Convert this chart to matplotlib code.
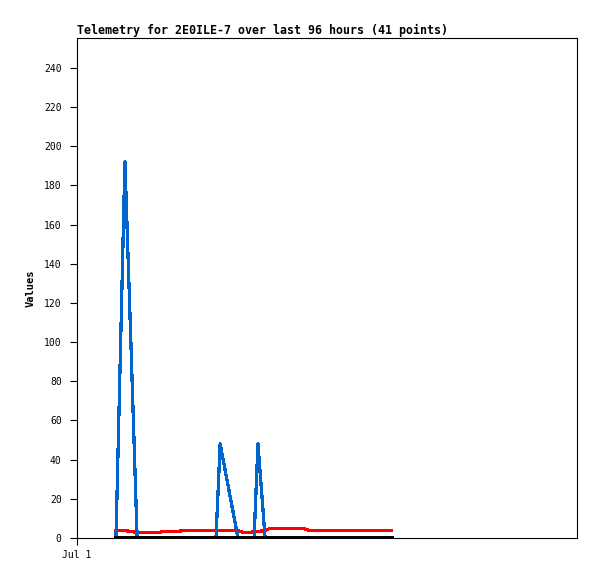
import matplotlib
matplotlib.use("Agg")
from matplotlib import pyplot as plt

# hours since Jul 1 00:00 for each telemetry point
hours = [13.1, 16.1, 18.1, 20.2, 22.5, 24.9, 27.2, 29.2, 31.6, 33.9,
         35.6, 38.0, 40.3, 42.7, 44.7, 46.7, 48.1, 50.1, 52.1, 54.1,
         55.8, 57.8, 59.5, 60.8, 63.2, 64.5, 66.9, 69.2, 71.6, 73.9,
         76.3, 78.3, 80.6, 83.0, 85.3, 87.7, 90.1, 94.4, 98.8, 103.5, 105.8]
blue_vals = [0, 192, 100, 0, 0, 0, 0, 0, 0, 0,
             0, 0, 0, 0, 0, 0, 48, 32, 16, 0,
             0, 0, 0, 48, 0, 0, 0, 0, 0, 0,
             0, 0, 0, 0, 0, 0, 0, 0, 0, 0, 0]
red_vals = [3.8, 3.8, 3.3, 2.8, 2.8, 2.8, 2.8, 3.3, 3.3, 3.3,
            3.8, 3.8, 3.8, 3.8, 3.8, 3.8, 3.8, 3.8, 3.8, 3.8,
            2.8, 2.8, 3.3, 3.3, 3.8, 4.7, 4.7, 4.7, 4.7, 4.7,
            4.7, 3.8, 3.8, 3.8, 3.8, 3.8, 3.8, 3.8, 3.8, 3.8, 3.8]
black_vals = [0] * 41

yticks = list(range(0, 241, 20))
title = "Telemetry for 2E0ILE-7 over last 96 hours (41 points)"

mono = "DejaVu Sans Mono"
fig = plt.figure(figsize=(5.97, 5.79), dpi=100)
ax = fig.add_axes([77 / 597, 41 / 579, 500 / 597, 500 / 579])

ax.plot(hours, red_vals, color="#ff0000", lw=1.6, antialiased=False)
ax.plot(hours, blue_vals, color="#0066cc", lw=1.6, antialiased=False)
ax.plot(hours, black_vals, color="black", lw=1.6, antialiased=False)

ax.set_xlim(0, 168)
ax.set_ylim(0, 255.3)
ax.set_xticks([0])
ax.set_xticklabels(["Jul 1"], family=mono, fontsize=7)
ax.set_yticks(yticks)
ax.set_yticklabels([str(v) for v in yticks], family=mono, fontsize=7)
ax.tick_params(axis="both", direction="out", length=5, width=0.8)
ax.tick_params(axis="y", pad=6)
ax.tick_params(axis="x", pad=4)
for s in ax.spines.values():
    s.set_linewidth(0.8)

ax.set_ylabel("Values", family=mono, fontsize=7.5, fontweight="bold")
ax.yaxis.set_label_coords(-0.082, 0.5)
ax.set_title(title, loc="left", family=mono, fontsize=8.4, fontweight="bold", pad=3)

fig.savefig("out.png", dpi=100)
